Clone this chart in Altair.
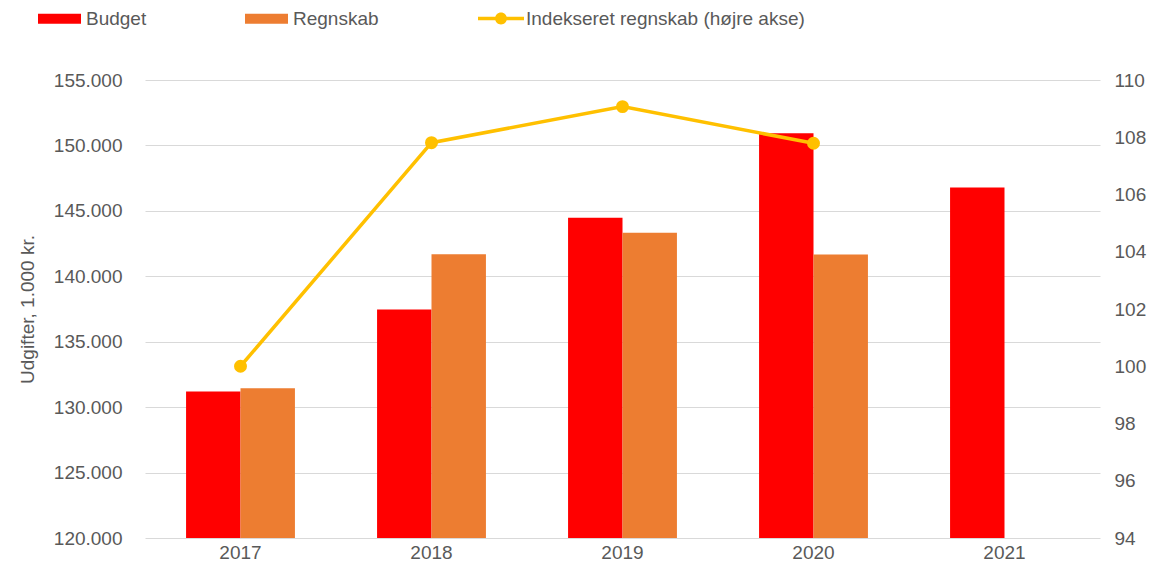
import altair as alt
import pandas as pd

years = ["2017", "2018", "2019", "2020", "2021"]
budget = [131200, 137470, 144470, 150940, 146780]
regnskab = [131450, 141680, 143320, 141660, None]
indeks = [100.0, 107.81, 109.07, 107.79, None]

bar_series = ["Budget", "Regnskab"]
bar_colors = ["#ff0000", "#ed7d31"]
line_name = "Indekseret regnskab (højre akse)"
line_color = "#ffc000"

left_ticks = [120000, 125000, 130000, 135000, 140000, 145000, 150000, 155000]
right_ticks = [94, 96, 98, 100, 102, 104, 106, 108, 110]

rows = []
for y, b, r in zip(years, budget, regnskab):
    if b is not None:
        rows.append({"year": y, "series": "Budget", "value": b})
    if r is not None:
        rows.append({"year": y, "series": "Regnskab", "value": r})
bars_df = pd.DataFrame(rows)

line_df = pd.DataFrame(
    [{"year": y, "series": line_name, "index": v} for y, v in zip(years, indeks) if v is not None]
)

FONT = "Liberation Sans"
TXT = "#595959"
GRID = "#d9d9d9"

xscale = alt.Scale(domain=years, paddingInner=0.43, paddingOuter=0.215)
xaxis = alt.Axis(title=None, labelFontSize=19, labelColor=TXT, labelFont=FONT,
                 ticks=False, domain=False, labelPadding=5, grid=False, labelAngle=0)

rect_path = "M-1,-0.233H1V0.233H-1Z"
line_path = ("M-1,-0.076H1V0.076H-1Z "
             "M0.26,0A0.26,0.26 0 1,1 -0.26,0A0.26,0.26 0 1,1 0.26,0Z")

bars = alt.Chart(bars_df).mark_bar().encode(
    x=alt.X("year:N", scale=xscale, axis=xaxis),
    xOffset=alt.XOffset("series:N", scale=alt.Scale(domain=bar_series)),
    y=alt.Y("value:Q",
            scale=alt.Scale(domain=[120000, 155000], zero=False, nice=False),
            axis=alt.Axis(values=left_ticks, title="Udgifter, 1.000 kr.",
                          labelExpr="replace(format(datum.value, ',.0f'), ',', '.')",
                          labelFontSize=19, labelColor=TXT, labelFont=FONT,
                          titleFontSize=19, titleColor=TXT, titleFont=FONT,
                          titleFontWeight="normal", titlePadding=16,
                          ticks=False, domain=False, labelPadding=23,
                          grid=True, gridColor=GRID, gridWidth=1.2)),
    y2=alt.datum(120000),
    fill=alt.Fill("series:N",
                  scale=alt.Scale(domain=bar_series, range=bar_colors),
                  legend=alt.Legend(orient="none", legendX=-107, legendY=-83,
                                    direction="horizontal", title=None, padding=0,
                                    columnPadding=98, labelOffset=5, labelLimit=0,
                                    symbolType=rect_path, symbolSize=1849,
                                    symbolStrokeWidth=0,
                                    labelFontSize=19, labelColor=TXT, labelFont=FONT)),
)

line = alt.Chart(line_df).mark_line(
    strokeWidth=3.5,
    point=alt.OverlayMarkDef(filled=True, size=120, color=line_color),
).encode(
    x=alt.X("year:N", scale=xscale, axis=xaxis),
    y=alt.Y("index:Q",
            scale=alt.Scale(domain=[94, 110], zero=False, nice=False),
            axis=alt.Axis(values=right_ticks, orient="right", title=None,
                          labelFontSize=19, labelColor=TXT, labelFont=FONT,
                          ticks=False, domain=False, labelPadding=14, grid=False)),
    stroke=alt.Stroke("series:N",
                      scale=alt.Scale(domain=[line_name], range=[line_color]),
                      legend=alt.Legend(orient="none", legendX=333, legendY=-84.5,
                                        direction="horizontal", title=None, padding=0,
                                        labelOffset=2, labelLimit=0,
                                        symbolType=line_path, symbolSize=2116,
                                        symbolStrokeWidth=0, symbolFillColor=line_color,
                                        labelFontSize=19, labelColor=TXT, labelFont=FONT)),
)

chart = alt.layer(bars, line).resolve_scale(y="independent").properties(
    width=955, height=458,
    autosize=alt.AutoSizeParams(type="none"),
    padding={"left": 137, "top": 72, "right": 47, "bottom": 25},
).configure_view(stroke=None)

chart.save("out.html", embed_options={"renderer": "svg", "actions": False})
